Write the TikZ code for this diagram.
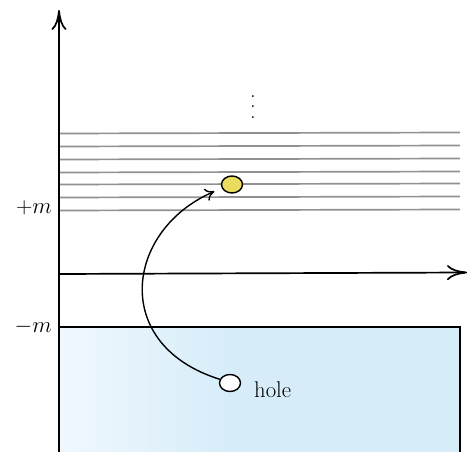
\RequirePackage{fix-cm}
\documentclass[tikz,border=0pt]{standalone}
\usetikzlibrary{arrows.meta,shapes.geometric}
\definecolor{seablue}{RGB}{214,237,249}
\definecolor{sealight}{RGB}{240,248,254}
\definecolor{elecyellow}{RGB}{233,220,95}
\definecolor{levelgray}{RGB}{145,145,145}
\begin{document}
\begin{tikzpicture}[x=1pt,y=-1pt,
  axis/.style={line width=1.7pt,-{To[length=20pt,width=15pt]}},
  level/.style={levelgray,line width=1.7pt},
  particle/.style={ellipse,draw=black,line width=1.4pt,minimum width=21pt,minimum height=17pt,inner sep=0pt},
  lbl/.style={font=\fontsize{22.7}{27}\selectfont,inner sep=0pt}]
\useasboundingbox (0,0) rectangle (467,452);
% sea
\shade[left color=sealight,right color=seablue] (59,327) rectangle (230,452);
\fill[seablue] (229.5,327) rectangle (460,452);
\draw[line width=1.9pt] (59,327) -- (460,327) -- (460,452);
% levels
\foreach \y in {133,146,159,172,184,197,210}
  \draw[level] (59,\y+0.5) -- (460,\y-0.5);
% axes
\coordinate (o) at (59,452);
\coordinate (ytip) at (59,10);
\coordinate (xs) at (59,274);
\coordinate (xtip) at (467,272.5);
\draw[axis] (o) -- (ytip);
\draw[axis] (xs) -- (xtip);
% labels
\node[lbl,anchor=base east] (pm) at (52,214) {$+m$};
\node[lbl,anchor=base east] (mm) at (52,332) {$-m$};
\node[lbl] (dots) at (253,107) {\vbox{\baselineskip=10.5pt\lineskiplimit=-10pt\hbox{.}\hbox{.}\hbox{.}}};
% particles
\node[particle,fill=elecyellow] (electron) at (232,184.5) {};
\node[particle,fill=white] (hole) at (230,383) {};
\node[lbl,anchor=base west] (holelbl) at (254,397) {hole};
\draw[line width=1.4pt,-{To[length=9pt,width=13pt]},shorten >=8pt]
  (hole.160) .. controls (110,345) and (125,230) .. (electron.200);
\end{tikzpicture}
\end{document}
